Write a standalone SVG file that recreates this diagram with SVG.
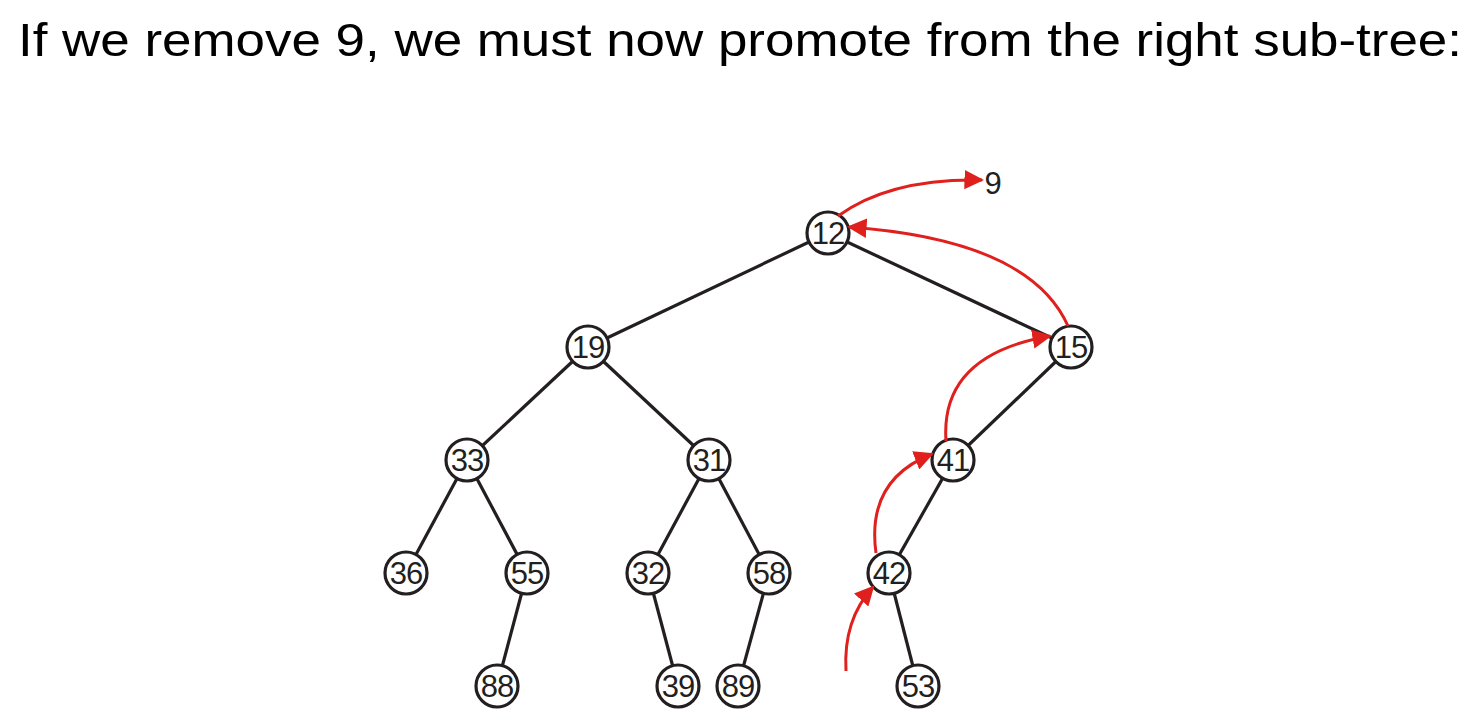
<svg xmlns="http://www.w3.org/2000/svg" width="1480" height="717" viewBox="0 0 1480 717">
<defs>
<style>
.n circle{fill:#fff;stroke:#231f20;stroke-width:3.2}
.n text{font-family:"Liberation Sans",Arial,sans-serif;font-size:31px;fill:#231f20;text-anchor:middle;letter-spacing:-1px}
.e line{stroke:#231f20;stroke-width:3.2}
.r path{fill:none;stroke:#e0201c;stroke-width:3}
</style>
<marker id="ah" viewBox="0 0 10 10" refX="9" refY="5" markerWidth="6.5" markerHeight="6.5" markerUnits="strokeWidth" orient="auto">
<path d="M0,0L10,5L0,10z" fill="#e0201c"/>
</marker>
</defs>
<rect width="1480" height="717" fill="#fff"/>
<text x="18" y="56" font-family="Liberation Sans,Arial,sans-serif" font-size="46" fill="#000" textLength="1444" lengthAdjust="spacingAndGlyphs">If we remove 9, we must now promote from the right sub-tree:</text>
<g class="e" id="edges">
<line x1="828" y1="233" x2="588" y2="347"/>
<line x1="828" y1="233" x2="1071" y2="347"/>
<line x1="588" y1="347" x2="467" y2="460"/>
<line x1="588" y1="347" x2="709" y2="460"/>
<line x1="1071" y1="347" x2="953" y2="460"/>
<line x1="467" y1="460" x2="406" y2="573"/>
<line x1="467" y1="460" x2="527" y2="573"/>
<line x1="709" y1="460" x2="648" y2="573"/>
<line x1="709" y1="460" x2="769" y2="573"/>
<line x1="953" y1="460" x2="889" y2="573"/>
<line x1="527" y1="573" x2="497" y2="686"/>
<line x1="648" y1="573" x2="678" y2="686"/>
<line x1="769" y1="573" x2="738" y2="686"/>
<line x1="889" y1="573" x2="918" y2="686"/>
</g>
<g class="n" id="n12"><circle cx="828" cy="233" r="21"/><text x="828" y="244">12</text></g>
<g class="n" id="n19"><circle cx="588" cy="347" r="21"/><text x="588" y="358">19</text></g>
<g class="n" id="n15"><circle cx="1071" cy="347" r="21"/><text x="1071" y="358">15</text></g>
<g class="n" id="n33"><circle cx="467" cy="460" r="21"/><text x="467" y="471">33</text></g>
<g class="n" id="n31"><circle cx="709" cy="460" r="21"/><text x="709" y="471">31</text></g>
<g class="n" id="n41"><circle cx="953" cy="460" r="21"/><text x="953" y="471">41</text></g>
<g class="n" id="n36"><circle cx="406" cy="573" r="21"/><text x="406" y="584">36</text></g>
<g class="n" id="n55"><circle cx="527" cy="573" r="21"/><text x="527" y="584">55</text></g>
<g class="n" id="n32"><circle cx="648" cy="573" r="21"/><text x="648" y="584">32</text></g>
<g class="n" id="n58"><circle cx="769" cy="573" r="21"/><text x="769" y="584">58</text></g>
<g class="n" id="n42"><circle cx="889" cy="573" r="21"/><text x="889" y="584">42</text></g>
<g class="n" id="n88"><circle cx="497" cy="686" r="21"/><text x="497" y="697">88</text></g>
<g class="n" id="n39"><circle cx="678" cy="686" r="21"/><text x="678" y="697">39</text></g>
<g class="n" id="n89"><circle cx="738" cy="686" r="21"/><text x="738" y="697">89</text></g>
<g class="n" id="n53"><circle cx="918" cy="686" r="21"/><text x="918" y="697">53</text></g>
<g id="lbl9"><text x="993" y="194" font-family="Liberation Sans,Arial,sans-serif" font-size="31" fill="#231f20" text-anchor="middle">9</text></g>
<g class="r" id="arrows">
<path d="M838,216 Q890,178 982,180" marker-end="url(#ah)"/>
<path d="M1068,326 Q1030,240 849,227" marker-end="url(#ah)"/>
<path d="M946,441 Q940,355 1050,336" marker-end="url(#ah)"/>
<path d="M876,553 Q866,480 932,454" marker-end="url(#ah)"/>
<path d="M846,671 Q843,620 873,587" marker-end="url(#ah)"/>
</g>
</svg>
